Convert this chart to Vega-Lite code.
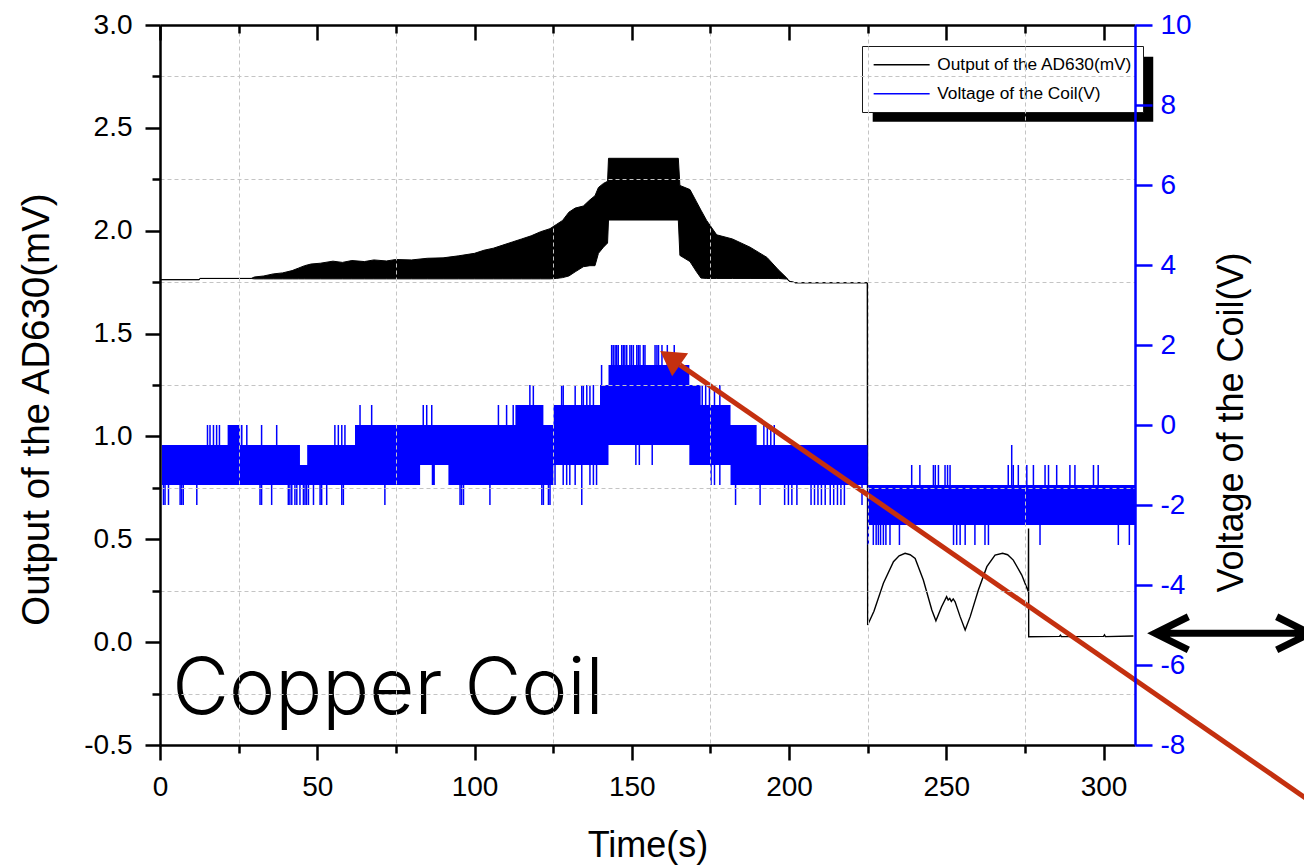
{
  "$schema": "https://vega.github.io/schema/vega-lite/v6.json",
  "width": 975,
  "height": 720,
  "autosize": {"type": "none"},
  "padding": {"left": 160, "top": 25, "right": 169, "bottom": 121},
  "background": "white",
  "config": {
    "view": {"stroke": null},
    "axis": {
      "labelFont": "Liberation Sans",
      "titleFont": "Liberation Sans",
      "labelFontSize": 28,
      "titleFontWeight": "normal",
      "labelColor": "black",
      "titleColor": "black",
      "domainColor": "black",
      "tickColor": "black",
      "domainWidth": 2.5,
      "tickWidth": 2.5,
      "labelOverlap": false,
      "labelFlush": false,
      "gridColor": "#c4c4c4",
      "gridDash": [4, 3],
      "gridWidth": 1
    }
  },
  "datasets": {
    "ad630_envelope": [
      {"t": 0, "lo": 1.762, "hi": 1.762},
      {"t": 12.5, "lo": 1.762, "hi": 1.762},
      {"t": 12.7, "lo": 1.768, "hi": 1.768},
      {"t": 29, "lo": 1.768, "hi": 1.768},
      {"t": 30, "lo": 1.766, "hi": 1.775},
      {"t": 33, "lo": 1.766, "hi": 1.78},
      {"t": 36, "lo": 1.766, "hi": 1.79},
      {"t": 39, "lo": 1.766, "hi": 1.795},
      {"t": 42, "lo": 1.766, "hi": 1.806},
      {"t": 44, "lo": 1.766, "hi": 1.818},
      {"t": 46, "lo": 1.766, "hi": 1.83},
      {"t": 48, "lo": 1.766, "hi": 1.838},
      {"t": 51, "lo": 1.766, "hi": 1.842},
      {"t": 55, "lo": 1.766, "hi": 1.852},
      {"t": 58, "lo": 1.766, "hi": 1.846},
      {"t": 61, "lo": 1.766, "hi": 1.855},
      {"t": 65, "lo": 1.766, "hi": 1.85},
      {"t": 68, "lo": 1.766, "hi": 1.858},
      {"t": 72, "lo": 1.766, "hi": 1.853},
      {"t": 75, "lo": 1.766, "hi": 1.86},
      {"t": 80, "lo": 1.766, "hi": 1.858},
      {"t": 85, "lo": 1.766, "hi": 1.866},
      {"t": 90, "lo": 1.766, "hi": 1.868},
      {"t": 95, "lo": 1.766, "hi": 1.878},
      {"t": 100, "lo": 1.766, "hi": 1.89},
      {"t": 103, "lo": 1.766, "hi": 1.905},
      {"t": 106, "lo": 1.766, "hi": 1.915},
      {"t": 109, "lo": 1.766, "hi": 1.93},
      {"t": 112, "lo": 1.766, "hi": 1.945},
      {"t": 115, "lo": 1.766, "hi": 1.96},
      {"t": 118, "lo": 1.766, "hi": 1.975},
      {"t": 121, "lo": 1.766, "hi": 1.995},
      {"t": 124, "lo": 1.766, "hi": 2.01},
      {"t": 126, "lo": 1.768, "hi": 2.03},
      {"t": 128, "lo": 1.772, "hi": 2.05},
      {"t": 130, "lo": 1.78, "hi": 2.09},
      {"t": 132, "lo": 1.8, "hi": 2.11},
      {"t": 134.6, "lo": 1.825, "hi": 2.12},
      {"t": 136.7, "lo": 1.83, "hi": 2.15},
      {"t": 138.3, "lo": 1.83, "hi": 2.17},
      {"t": 139.4, "lo": 1.89, "hi": 2.21},
      {"t": 141, "lo": 1.92, "hi": 2.23},
      {"t": 142.3, "lo": 1.94, "hi": 2.24},
      {"t": 142.6, "lo": 2.052, "hi": 2.352},
      {"t": 164.8, "lo": 2.052, "hi": 2.352},
      {"t": 165.3, "lo": 1.88, "hi": 2.22},
      {"t": 168.5, "lo": 1.85, "hi": 2.2},
      {"t": 170.6, "lo": 1.8, "hi": 2.14},
      {"t": 172, "lo": 1.77, "hi": 2.1},
      {"t": 173.8, "lo": 1.768, "hi": 2.05},
      {"t": 177, "lo": 1.768, "hi": 1.98},
      {"t": 182, "lo": 1.768, "hi": 1.96},
      {"t": 187.6, "lo": 1.768, "hi": 1.92},
      {"t": 193, "lo": 1.768, "hi": 1.87},
      {"t": 196.6, "lo": 1.768, "hi": 1.81},
      {"t": 199.3, "lo": 1.765, "hi": 1.77},
      {"t": 200, "lo": 1.755, "hi": 1.755},
      {"t": 202, "lo": 1.747, "hi": 1.747},
      {"t": 224.9, "lo": 1.747, "hi": 1.747}
    ],
    "ad630_tail": [
      {"t": 224.9, "v": 1.747},
      {"t": 225.0, "v": 0.083},
      {"t": 227, "v": 0.15},
      {"t": 230, "v": 0.286},
      {"t": 233.2, "v": 0.391},
      {"t": 235, "v": 0.42},
      {"t": 236.9, "v": 0.432},
      {"t": 238.5, "v": 0.425},
      {"t": 240.1, "v": 0.407},
      {"t": 242.7, "v": 0.302},
      {"t": 245.4, "v": 0.156},
      {"t": 246.7, "v": 0.104},
      {"t": 248.5, "v": 0.172},
      {"t": 250.1, "v": 0.221},
      {"t": 250.6, "v": 0.205},
      {"t": 251.1, "v": 0.213},
      {"t": 251.6, "v": 0.198},
      {"t": 252.2, "v": 0.21},
      {"t": 252.8, "v": 0.196},
      {"t": 254.4, "v": 0.124},
      {"t": 256.0, "v": 0.059},
      {"t": 257.6, "v": 0.124},
      {"t": 260.2, "v": 0.253},
      {"t": 262.9, "v": 0.367},
      {"t": 265.5, "v": 0.423},
      {"t": 267.9, "v": 0.432},
      {"t": 269.5, "v": 0.425},
      {"t": 271.3, "v": 0.399},
      {"t": 274.0, "v": 0.326},
      {"t": 276.1, "v": 0.245},
      {"t": 276.15, "v": 0.553},
      {"t": 276.2, "v": 0.026},
      {"t": 286, "v": 0.028},
      {"t": 286.3, "v": 0.034},
      {"t": 286.6, "v": 0.027},
      {"t": 300, "v": 0.028},
      {"t": 300.3, "v": 0.035},
      {"t": 300.6, "v": 0.027},
      {"t": 309.5, "v": 0.03}
    ],
    "coil_band": [
      {"t": 0.6, "lo": -1.5, "hi": -0.5},
      {"t": 21.5, "lo": -1.5, "hi": 0},
      {"t": 25.5, "lo": -1.5, "hi": -0.5},
      {"t": 44.5, "lo": -1.5, "hi": -1.0},
      {"t": 46.8, "lo": -1.5, "hi": -0.5},
      {"t": 62.0, "lo": -1.5, "hi": 0},
      {"t": 82.7, "lo": -1.0, "hi": 0},
      {"t": 86.4, "lo": -1.5, "hi": 0},
      {"t": 87.4, "lo": -1.0, "hi": 0},
      {"t": 91.7, "lo": -1.5, "hi": 0},
      {"t": 113.0, "lo": -1.5, "hi": 0.5},
      {"t": 121.9, "lo": -1.5, "hi": 0},
      {"t": 125.1, "lo": -1.0, "hi": 0.5},
      {"t": 139.9, "lo": -1.0, "hi": 1.0},
      {"t": 142.6, "lo": -0.5, "hi": 1.5},
      {"t": 168.3, "lo": -1.0, "hi": 1.0},
      {"t": 171.9, "lo": -1.0, "hi": 0.5},
      {"t": 181.4, "lo": -1.5, "hi": 0},
      {"t": 189.7, "lo": -1.5, "hi": -0.5},
      {"t": 225.0, "lo": -2.5, "hi": -1.5},
      {"t": 310, "lo": -2.5, "hi": -1.5}
    ],
    "coil_spikes": [
      {"t": 1.1, "lo": -2, "hi": -1.5}, {"t": 1.6, "lo": -2, "hi": -1.5}, {"t": 2.7, "lo": -2, "hi": -1.5},
      {"t": 6.4, "lo": -2, "hi": -1.5}, {"t": 6.9, "lo": -2, "hi": -1.5}, {"t": 7.4, "lo": -2, "hi": -1.5},
      {"t": 11.7, "lo": -2, "hi": -1.5}, {"t": 31.8, "lo": -2, "hi": -1.5}, {"t": 32.3, "lo": -2, "hi": -1.5},
      {"t": 35.5, "lo": -2, "hi": -1.5}, {"t": 40.8, "lo": -2, "hi": -1.5}, {"t": 41.3, "lo": -2, "hi": -1.5},
      {"t": 41.9, "lo": -2, "hi": -1.5}, {"t": 42.9, "lo": -2, "hi": -1.5}, {"t": 43.5, "lo": -2, "hi": -1.5},
      {"t": 44.5, "lo": -2, "hi": -1.5}, {"t": 45.6, "lo": -2, "hi": -1.5}, {"t": 46.1, "lo": -2, "hi": -1.5},
      {"t": 46.6, "lo": -2, "hi": -1.5}, {"t": 47.2, "lo": -2, "hi": -1.5}, {"t": 48.8, "lo": -2, "hi": -1.5},
      {"t": 50.9, "lo": -2, "hi": -1.5}, {"t": 51.4, "lo": -2, "hi": -1.5}, {"t": 53.0, "lo": -2, "hi": -1.5},
      {"t": 57.8, "lo": -2, "hi": -1.5}, {"t": 58.3, "lo": -2, "hi": -1.5}, {"t": 71.5, "lo": -2, "hi": -1.5},
      {"t": 95.4, "lo": -2, "hi": -1.5}, {"t": 95.9, "lo": -2, "hi": -1.5}, {"t": 96.5, "lo": -2, "hi": -1.5},
      {"t": 104.9, "lo": -2, "hi": -1.5}, {"t": 121.4, "lo": -2, "hi": -1.5}, {"t": 121.9, "lo": -2, "hi": -1.5},
      {"t": 123.5, "lo": -2, "hi": -1.5}, {"t": 124.0, "lo": -2, "hi": -1.5}, {"t": 183.0, "lo": -2, "hi": -1.5},
      {"t": 190.8, "lo": -2, "hi": -1.5}, {"t": 198.6, "lo": -2, "hi": -1.5}, {"t": 199.8, "lo": -2, "hi": -1.5},
      {"t": 200.9, "lo": -2, "hi": -1.5}, {"t": 202.5, "lo": -2, "hi": -1.5}, {"t": 207.0, "lo": -2, "hi": -1.5},
      {"t": 208.1, "lo": -2, "hi": -1.5}, {"t": 209.2, "lo": -2, "hi": -1.5}, {"t": 210.3, "lo": -2, "hi": -1.5},
      {"t": 211.5, "lo": -2, "hi": -1.5}, {"t": 213.1, "lo": -2, "hi": -1.5}, {"t": 214.2, "lo": -2, "hi": -1.5},
      {"t": 215.4, "lo": -2, "hi": -1.5}, {"t": 216.5, "lo": -2, "hi": -1.5}, {"t": 217.6, "lo": -2, "hi": -1.5},
      {"t": 223.2, "lo": -2, "hi": -1.5},
      {"t": 134.1, "lo": -2, "hi": -1.0},
      {"t": 125.6, "lo": -1.5, "hi": -1.0}, {"t": 128.2, "lo": -1.5, "hi": -1.0}, {"t": 129.3, "lo": -1.5, "hi": -1.0},
      {"t": 130.3, "lo": -1.5, "hi": -1.0}, {"t": 132.0, "lo": -1.5, "hi": -1.0}, {"t": 136.7, "lo": -1.5, "hi": -1.0},
      {"t": 137.8, "lo": -1.5, "hi": -1.0}, {"t": 138.8, "lo": -1.5, "hi": -1.0}, {"t": 175.2, "lo": -1.5, "hi": -1.0},
      {"t": 176.3, "lo": -1.5, "hi": -1.0}, {"t": 178.0, "lo": -1.5, "hi": -1.0},
      {"t": 151.3, "lo": -1.0, "hi": -0.5}, {"t": 152.4, "lo": -1.0, "hi": -0.5}, {"t": 156.5, "lo": -1.0, "hi": -0.5},
      {"t": 15.1, "lo": -0.5, "hi": 0}, {"t": 15.9, "lo": -0.5, "hi": 0}, {"t": 17.0, "lo": -0.5, "hi": 0},
      {"t": 18.0, "lo": -0.5, "hi": 0}, {"t": 18.9, "lo": -0.5, "hi": 0}, {"t": 26.0, "lo": -0.5, "hi": 0},
      {"t": 27.6, "lo": -0.5, "hi": 0}, {"t": 32.3, "lo": -0.5, "hi": 0}, {"t": 37.1, "lo": -0.5, "hi": 0},
      {"t": 55.6, "lo": -0.5, "hi": 0}, {"t": 56.7, "lo": -0.5, "hi": 0}, {"t": 57.8, "lo": -0.5, "hi": 0},
      {"t": 58.8, "lo": -0.5, "hi": 0}, {"t": 192.0, "lo": -0.5, "hi": 0}, {"t": 193.1, "lo": -0.5, "hi": 0},
      {"t": 194.2, "lo": -0.5, "hi": 0}, {"t": 195.3, "lo": -0.5, "hi": 0},
      {"t": 63.6, "lo": 0, "hi": 0.5}, {"t": 67.3, "lo": 0, "hi": 0.5}, {"t": 83.7, "lo": 0, "hi": 0.5},
      {"t": 84.8, "lo": 0, "hi": 0.5}, {"t": 86.4, "lo": 0, "hi": 0.5}, {"t": 107.6, "lo": 0, "hi": 0.5},
      {"t": 110.2, "lo": 0, "hi": 0.5}, {"t": 112.3, "lo": 0, "hi": 0.5},
      {"t": 117.6, "lo": 0.5, "hi": 1.0}, {"t": 118.7, "lo": 0.5, "hi": 1.0}, {"t": 127.7, "lo": 0.5, "hi": 1.0},
      {"t": 128.2, "lo": 0.5, "hi": 1.0}, {"t": 132.0, "lo": 0.5, "hi": 1.0}, {"t": 134.1, "lo": 0.5, "hi": 1.0},
      {"t": 134.6, "lo": 0.5, "hi": 1.0}, {"t": 135.7, "lo": 0.5, "hi": 1.0}, {"t": 136.7, "lo": 0.5, "hi": 1.0},
      {"t": 137.8, "lo": 0.5, "hi": 1.0}, {"t": 172.4, "lo": 0.5, "hi": 1.0}, {"t": 173.5, "lo": 0.5, "hi": 1.0},
      {"t": 174.7, "lo": 0.5, "hi": 1.0}, {"t": 176.3, "lo": 0.5, "hi": 1.0}, {"t": 178.0, "lo": 0.5, "hi": 1.0},
      {"t": 140.4, "lo": 1.0, "hi": 1.5},
      {"t": 143.6, "lo": 1.5, "hi": 2.0}, {"t": 144.1, "lo": 1.5, "hi": 2.0}, {"t": 144.7, "lo": 1.5, "hi": 2.0},
      {"t": 145.2, "lo": 1.5, "hi": 2.0}, {"t": 145.7, "lo": 1.5, "hi": 2.0}, {"t": 146.8, "lo": 1.5, "hi": 2.0},
      {"t": 147.3, "lo": 1.5, "hi": 2.0}, {"t": 147.8, "lo": 1.5, "hi": 2.0}, {"t": 148.4, "lo": 1.5, "hi": 2.0},
      {"t": 149.4, "lo": 1.5, "hi": 2.0}, {"t": 149.9, "lo": 1.5, "hi": 2.0}, {"t": 150.5, "lo": 1.5, "hi": 2.0},
      {"t": 151.6, "lo": 1.5, "hi": 2.0}, {"t": 152.1, "lo": 1.5, "hi": 2.0}, {"t": 152.6, "lo": 1.5, "hi": 2.0},
      {"t": 153.7, "lo": 1.5, "hi": 2.0}, {"t": 154.2, "lo": 1.5, "hi": 2.0}, {"t": 157.4, "lo": 1.5, "hi": 2.0},
      {"t": 158.0, "lo": 1.5, "hi": 2.0}, {"t": 158.5, "lo": 1.5, "hi": 2.0}, {"t": 159.6, "lo": 1.5, "hi": 2.0},
      {"t": 161.3, "lo": 1.5, "hi": 2.0}, {"t": 163.5, "lo": 1.5, "hi": 2.0},
      {"t": 239.0, "lo": -1.5, "hi": -1.0}, {"t": 241.6, "lo": -1.5, "hi": -1.0}, {"t": 245.9, "lo": -1.5, "hi": -1.0},
      {"t": 246.5, "lo": -1.5, "hi": -1.0}, {"t": 247.5, "lo": -1.5, "hi": -1.0}, {"t": 249.6, "lo": -1.5, "hi": -1.0},
      {"t": 250.4, "lo": -1.5, "hi": -1.0}, {"t": 251.2, "lo": -1.5, "hi": -1.0}, {"t": 269.7, "lo": -1.5, "hi": -1.0},
      {"t": 271.3, "lo": -1.5, "hi": -1.0}, {"t": 272.9, "lo": -1.5, "hi": -1.0}, {"t": 275.6, "lo": -1.5, "hi": -1.0},
      {"t": 277.7, "lo": -1.5, "hi": -1.0}, {"t": 281.4, "lo": -1.5, "hi": -1.0}, {"t": 282.5, "lo": -1.5, "hi": -1.0},
      {"t": 285.1, "lo": -1.5, "hi": -1.0}, {"t": 289.3, "lo": -1.5, "hi": -1.0}, {"t": 290.9, "lo": -1.5, "hi": -1.0},
      {"t": 296.8, "lo": -1.5, "hi": -1.0}, {"t": 298.3, "lo": -1.5, "hi": -1.0},
      {"t": 270.8, "lo": -1.5, "hi": -0.5},
      {"t": 225.2, "lo": -3.0, "hi": -2.5}, {"t": 226.8, "lo": -3.0, "hi": -2.5}, {"t": 227.7, "lo": -3.0, "hi": -2.5},
      {"t": 228.4, "lo": -3.0, "hi": -2.5}, {"t": 229.1, "lo": -3.0, "hi": -2.5}, {"t": 230.0, "lo": -3.0, "hi": -2.5},
      {"t": 230.8, "lo": -3.0, "hi": -2.5}, {"t": 232.1, "lo": -3.0, "hi": -2.5}, {"t": 235.1, "lo": -3.0, "hi": -2.5},
      {"t": 252.3, "lo": -3.0, "hi": -2.5}, {"t": 253.3, "lo": -3.0, "hi": -2.5}, {"t": 254.4, "lo": -3.0, "hi": -2.5},
      {"t": 256.0, "lo": -3.0, "hi": -2.5}, {"t": 259.1, "lo": -3.0, "hi": -2.5}, {"t": 262.3, "lo": -3.0, "hi": -2.5},
      {"t": 263.4, "lo": -3.0, "hi": -2.5}, {"t": 279.8, "lo": -3.0, "hi": -2.5}, {"t": 304.7, "lo": -3.0, "hi": -2.5},
      {"t": 308.2, "lo": -3.0, "hi": -2.5}
    ]
  },
  "layer": [
    {
      "layer": [
        {
          "data": {"name": "ad630_envelope"},
          "mark": {"type": "area", "color": "black", "opacity": 1, "interpolate": "linear"},
          "encoding": {
            "x": {
              "field": "t", "type": "quantitative",
              "scale": {"domain": [0, 310], "nice": false, "zero": false},
              "axis": {
                "orient": "bottom",
                "values": [0, 25, 50, 75, 100, 125, 150, 175, 200, 225, 250, 275, 300],
                "labelExpr": "datum.value % 50 === 0 ? '' + datum.value : ''",
                "tickSize": {"condition": {"test": "datum.value % 50 !== 0", "value": 8}, "value": 15},
                "labelPadding": 13,
                "grid": true,
                "gridOpacity": {"condition": {"test": "datum.value % 50 === 0", "value": 0}, "value": 1},
                "title": "Time(s)",
                "titleFontSize": 36,
                "titleBaseline": "alphabetic",
                "titleY": 111,
                "zindex": 1
              }
            },
            "y": {
              "field": "hi", "type": "quantitative",
              "scale": {"domain": [-0.5, 3.0], "nice": false, "zero": false},
              "axis": {
                "orient": "left",
                "values": [-0.5, -0.25, 0, 0.25, 0.5, 0.75, 1, 1.25, 1.5, 1.75, 2, 2.25, 2.5, 2.75, 3],
                "labelExpr": "datum.value % 0.5 === 0 ? (datum.value < 0 ? '-' : '') + format(abs(datum.value), '.1f') : ''",
                "tickSize": {"condition": {"test": "datum.value % 0.5 !== 0", "value": 8}, "value": 15},
                "labelPadding": 13,
                "grid": true,
                "gridOpacity": {"condition": {"test": "datum.value % 0.5 === 0", "value": 0}, "value": 1},
                "title": "Output of the AD630(mV)",
                "titleFontSize": 38.5,
                "titleAngle": -90,
                "titleAlign": "center",
                "titleBaseline": "alphabetic",
                "titleX": -112,
                "titleY": 384,
                "zindex": 1
              }
            },
            "y2": {"field": "lo"}
          }
        },
        {
          "data": {"name": "ad630_envelope"},
          "mark": {"type": "line", "strokeWidth": 1, "interpolate": "linear"},
          "encoding": {
            "x": {"field": "t", "type": "quantitative"},
            "y": {"field": "hi", "type": "quantitative"},
            "color": {
              "datum": "Output of the AD630(mV)",
              "type": "nominal",
              "scale": {"domain": ["Output of the AD630(mV)", "Voltage of the Coil(V)"], "range": ["#000000", "#0000ff"]},
              "legend": {
                "orient": "none",
                "legendX": 702,
                "legendY": 21,
                "title": null,
                "direction": "vertical",
                "symbolType": "M-1.75,0H12.25",
                "symbolSize": 64,
                "symbolStrokeWidth": 1.5,
                "labelFont": "Liberation Sans",
                "labelFontSize": 17.3,
                "labelColor": "black",
                "labelOffset": 48,
                "labelLimit": 400,
                "rowPadding": 11,
                "padding": 10,
                "fillColor": "white",
                "strokeColor": "#1a1a1a"
              }
            }
          }
        },
        {
          "data": {"name": "ad630_envelope"},
          "mark": {"type": "line", "strokeWidth": 1, "interpolate": "linear"},
          "encoding": {
            "x": {"field": "t", "type": "quantitative"},
            "y": {"field": "lo", "type": "quantitative"},
            "color": {"datum": "Output of the AD630(mV)", "type": "nominal"}
          }
        },
        {
          "data": {"name": "ad630_tail"},
          "mark": {"type": "line", "strokeWidth": 1.4, "interpolate": "linear"},
          "encoding": {
            "x": {"field": "t", "type": "quantitative"},
            "y": {"field": "v", "type": "quantitative"},
            "color": {"datum": "Output of the AD630(mV)", "type": "nominal"}
          }
        },
        {
          "data": {"values": [{}]},
          "mark": {"type": "rect", "color": "black", "opacity": 1},
          "encoding": {
            "x": {"datum": 226.6, "type": "quantitative"},
            "x2": {"datum": 315.8},
            "y": {"datum": 2.846, "type": "quantitative"},
            "y2": {"datum": 2.53}
          }
        },
        {
          "data": {"values": [{}]},
          "mark": {"type": "text", "align": "left", "baseline": "alphabetic", "font": "Inter", "fontSize": 78, "fontWeight": 300, "color": "black"},
          "encoding": {
            "x": {"datum": 3.9, "type": "quantitative"},
            "y": {"datum": -0.35, "type": "quantitative"},
            "text": {"value": "Copper Coil"}
          }
        }
      ]
    },
    {
      "layer": [
        {
          "data": {"name": "coil_band"},
          "mark": {"type": "area", "color": "#0000ff", "opacity": 1, "interpolate": "step-after"},
          "encoding": {
            "x": {
              "field": "t", "type": "quantitative",
              "axis": {
                "orient": "top",
                "values": [0, 25, 50, 75, 100, 125, 150, 175, 200, 225, 250, 275, 300],
                "labels": false,
                "tickSize": {"condition": {"test": "datum.value % 50 !== 0", "value": -8}, "value": -15},
                "grid": false,
                "title": null,
                "zindex": 1
              }
            },
            "y": {
              "field": "hi", "type": "quantitative",
              "scale": {"domain": [-8, 10], "nice": false, "zero": false},
              "axis": {
                "orient": "right",
                "values": [-8, -7, -6, -5, -4, -3, -2, -1, 0, 1, 2, 3, 4, 5, 6, 7, 8, 9, 10],
                "labelExpr": "datum.value % 2 === 0 ? (datum.value < 0 ? '-' : '') + abs(datum.value) : ''",
                "tickSize": {"condition": {"test": "datum.value % 2 !== 0", "value": 10}, "value": 17},
                "labelPadding": 8,
                "grid": false,
                "domainColor": "#0000ff",
                "tickColor": "#0000ff",
                "labelColor": "#0000ff",
                "title": "Voltage of the Coil(V)",
                "titleFontSize": 36,
                "titleAngle": -90,
                "titleAlign": "center",
                "titleBaseline": "alphabetic",
                "titleX": 107,
                "titleY": 397,
                "zindex": 1
              }
            },
            "y2": {"field": "lo"}
          }
        },
        {
          "data": {"name": "coil_spikes"},
          "mark": {"type": "rule", "strokeWidth": 1.5},
          "encoding": {
            "x": {"field": "t", "type": "quantitative"},
            "y": {"field": "lo", "type": "quantitative"},
            "y2": {"field": "hi"},
            "color": {"datum": "Voltage of the Coil(V)", "type": "nominal"}
          }
        }
      ]
    },
    {
      "data": {"values": [{}]},
      "layer": [
        {
          "mark": {"type": "rule", "color": "#c4300f", "strokeWidth": 5, "strokeCap": "butt"},
          "encoding": {
            "x": {"datum": 165.3, "type": "quantitative", "axis": null},
            "y": {"datum": 1.348, "type": "quantitative", "scale": {"domain": [-0.5, 3.0], "nice": false, "zero": false}, "axis": null},
            "x2": {"datum": 372.0},
            "y2": {"datum": -0.84}
          }
        },
        {
          "mark": {"type": "point", "shape": "triangle-up", "filled": true, "size": 784, "angle": 304.65, "color": "#c4300f", "opacity": 1, "strokeWidth": 0},
          "encoding": {
            "x": {"datum": 162.2, "type": "quantitative"},
            "y": {"datum": 1.3816, "type": "quantitative"}
          }
        },
        {
          "mark": {
            "type": "point",
            "shape": "M-1,0H1M-0.57,-0.214L-1,0L-0.57,0.214M0.57,-0.214L1,0L0.57,0.214",
            "filled": false,
            "size": 24025,
            "stroke": "black",
            "strokeWidth": 7,
            "strokeJoin": "miter",
            "strokeCap": "butt",
            "opacity": 1
          },
          "encoding": {
            "x": {"datum": 341.0, "type": "quantitative"},
            "y": {"datum": 0.0428, "type": "quantitative"}
          }
        }
      ]
    }
  ],
  "resolve": {"scale": {"y": "independent"}, "axis": {"x": "independent", "y": "independent"}}
}
